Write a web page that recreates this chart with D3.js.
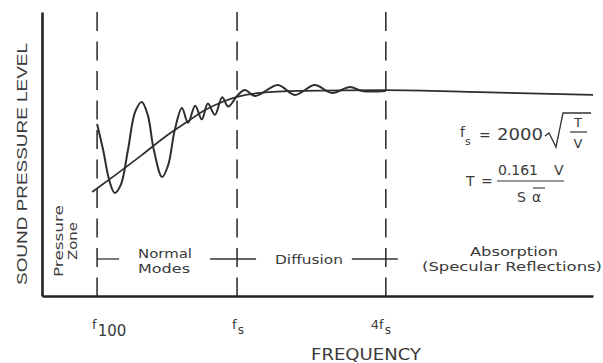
<!DOCTYPE html>
<html>
<head>
<meta charset="utf-8">
<script src="https://cdn.jsdelivr.net/npm/d3@7"></script>
<style>
	body { margin: 0; background: #fff; }
	svg { display: block; }
	text { font-family: 'DejaVu Sans', sans-serif; fill: #3a3a3a; }
</style>
</head>
<body>
<svg id="chart"></svg>
<script>
const WIDTH = 603;
const HEIGHT = 363;
const MARGIN = { top: 12, right: 10, bottom: 67, left: 42 };

// frequency / level in percent of the axis span
const trendFreq = [9.1, 13.6, 18.1, 22.3, 26.0, 29.6, 32.7, 35.4, 39.6, 46.8, 62.4, 79.5, 100];
const trendLevel = [36.6, 43.0, 49.6, 56.0, 60.9, 65.5, 68.3, 70.1, 71.5, 72.2, 72.5, 71.8, 70.8];

const responseFreq = [10.0, 11.1, 12.2, 13.2, 14.3, 15.6, 16.9, 18.1, 19.2, 20.3, 21.8, 22.9, 24.1,
	25.4, 26.5, 27.8, 29.0, 30.1, 31.4, 32.7, 33.8, 35.4, 36.8, 38.7, 42.8, 45.9, 49.5, 52.6, 55.9, 58.1, 62.4];
const responseLevel = [60.6, 51.4, 40.8, 36.3, 39.1, 51.4, 64.8, 68.3, 63.7, 51.4, 41.9, 46.1, 58.5,
	66.2, 61.0, 67.0, 62.2, 67.8, 63.8, 70.0, 66.7, 70.4, 72.5, 70.4, 74.3, 70.8, 74.3, 71.5, 73.6, 72.2, 72.2];

// region boundaries: f100, fs, 4fs
const boundaryFreq = [10.0, 35.4, 62.4];
const boundaryMain = ['f', 'f', '4f'];
const boundarySub = ['100', 's', 's'];

const svg = d3.select('#chart').attr('width', WIDTH).attr('height', HEIGHT);

const x = d3.scaleLinear().domain([0, 100]).range([MARGIN.left, WIDTH - MARGIN.right]);
const y = d3.scaleLinear().domain([0, 100]).range([HEIGHT - MARGIN.bottom, MARGIN.top]);

// dashed boundaries
svg.append('g')
	.selectAll('line')
	.data(boundaryFreq)
	.enter()
	.append('line')
	.attr('x1', (d) => x(d))
	.attr('x2', (d) => x(d))
	.attr('y1', y(100))
	.attr('y2', y(0))
	.attr('stroke', '#333')
	.attr('stroke-width', 1.6)
	.attr('stroke-dasharray', '19,10.5');

// axes (domain lines only)
const xAxis = svg.append('g')
	.attr('transform', `translate(0,${y(0)})`)
	.call(d3.axisBottom(x).tickValues([]).tickSizeOuter(0));
const yAxis = svg.append('g')
	.attr('transform', `translate(${x(0)},0)`)
	.call(d3.axisLeft(y).tickValues([]).tickSizeOuter(0));
[xAxis, yAxis].forEach((a) => a.select('.domain').attr('stroke', '#222').attr('stroke-width', 2.6));

// curves
const line = d3.line().x((d) => x(d[0])).y((d) => y(d[1]));

svg.append('path')
	.datum(d3.zip(trendFreq, trendLevel))
	.attr('fill', 'none')
	.attr('stroke', '#2e2e2e')
	.attr('stroke-width', 1.7)
	.attr('d', line.curve(d3.curveMonotoneX));

svg.append('path')
	.datum(d3.zip(responseFreq, responseLevel))
	.attr('fill', 'none')
	.attr('stroke', '#2e2e2e')
	.attr('stroke-width', 2)
	.attr('d', line.curve(d3.curveCatmullRom.alpha(0.5)));

// frequency labels under the axis
const tickLabels = svg.append('g')
	.selectAll('text')
	.data(boundaryFreq)
	.enter()
	.append('text')
	.attr('x', (d, i) => x(d) - (i === 2 ? 15 : 5))
	.attr('y', 329)
	.style('font-size', '13px');
tickLabels.append('tspan').text((d, i) => boundaryMain[i]);
tickLabels.append('tspan')
	.attr('dy', (d, i) => (i === 0 ? 7 : 5))
	.attr('dx', 1)
	.style('font-size', (d, i) => (i === 0 ? '15px' : '12px'))
	.text((d, i) => boundarySub[i]);

svg.append('text')
	.attr('x', 311)
	.attr('y', 360)
	.attr('textLength', 110)
	.attr('lengthAdjust', 'spacingAndGlyphs')
	.style('font-size', '15px')
	.text('FREQUENCY');

svg.append('text')
	.attr('transform', 'translate(27,285) rotate(-90)')
	.attr('textLength', 242)
	.attr('lengthAdjust', 'spacingAndGlyphs')
	.style('font-family', 'Liberation Sans, Arial, sans-serif')
	.style('font-size', '14px')
	.text('SOUND PRESSURE LEVEL');

// region labels
svg.append('text')
	.attr('transform', 'translate(63,277) rotate(-90)')
	.attr('textLength', 72)
	.attr('lengthAdjust', 'spacingAndGlyphs')
	.style('font-size', '13px')
	.text('Pressure');
svg.append('text')
	.attr('transform', 'translate(77,260) rotate(-90)')
	.attr('textLength', 38)
	.attr('lengthAdjust', 'spacingAndGlyphs')
	.style('font-size', '13px')
	.text('Zone');

const regionText = [
	{ t: 'Normal', x: 138, y: 258, w: 54 },
	{ t: 'Modes', x: 138, y: 273, w: 52 },
	{ t: 'Diffusion', x: 275, y: 264, w: 68 },
	{ t: 'Absorption', x: 470, y: 256, w: 88 },
	{ t: '(Specular Reflections)', x: 422, y: 271, w: 180 }
];
svg.append('g')
	.selectAll('text')
	.data(regionText)
	.enter()
	.append('text')
	.attr('x', (d) => d.x)
	.attr('y', (d) => d.y)
	.attr('textLength', (d) => d.w)
	.attr('lengthAdjust', 'spacingAndGlyphs')
	.style('font-size', '13px')
	.text((d) => d.t);

// little crosses on the boundaries
const crossY = 259;
const crossSpans = [[0, 22], [-27, 19], [-34, 12]];
svg.append('g')
	.selectAll('line')
	.data(boundaryFreq)
	.enter()
	.append('line')
	.attr('x1', (d, i) => x(d) + crossSpans[i][0])
	.attr('x2', (d, i) => x(d) + crossSpans[i][1])
	.attr('y1', crossY)
	.attr('y2', crossY)
	.attr('stroke', '#333')
	.attr('stroke-width', 1.3);

// formulas
const f = svg.append('g').style('font-size', '14px');
const fs = f.append('text').attr('x', 460).attr('y', 137);
fs.append('tspan').text('f');
fs.append('tspan').attr('dx', 0).attr('dy', 8).style('font-size', '11px').text('s');
f.append('text').attr('x', 479).attr('y', 140).text('=');
f.append('text').attr('x', 497).attr('y', 140).attr('textLength', 46)
	.attr('lengthAdjust', 'spacingAndGlyphs').style('font-size', '15px').text('2000');
f.append('path')
	.attr('d', 'M545,136 L549,133 L556,147 L563,113 L591,113')
	.attr('fill', 'none').attr('stroke', '#333').attr('stroke-width', 1.3);
f.append('text').attr('x', 578).attr('y', 127).attr('text-anchor', 'middle').style('font-size', '13px').text('T');
f.append('line').attr('x1', 570).attr('x2', 587).attr('y1', 132).attr('y2', 132)
	.attr('stroke', '#333').attr('stroke-width', 1.2);
f.append('text').attr('x', 578).attr('y', 148).attr('text-anchor', 'middle').style('font-size', '13px').text('V');

f.append('text').attr('x', 466).attr('y', 186).text('T');
f.append('text').attr('x', 481).attr('y', 186).text('=');
f.append('text').attr('x', 498).attr('y', 175).attr('textLength', 40)
	.attr('lengthAdjust', 'spacingAndGlyphs').text('0.161');
f.append('text').attr('x', 554).attr('y', 175).text('V');
f.append('line').attr('x1', 497).attr('x2', 564).attr('y1', 181).attr('y2', 181)
	.attr('stroke', '#333').attr('stroke-width', 1.2);
f.append('text').attr('x', 517).attr('y', 202).text('S');
f.append('text').attr('x', 532).attr('y', 202).text('α');
f.append('line').attr('x1', 533).attr('x2', 545).attr('y1', 188).attr('y2', 188)
	.attr('stroke', '#333').attr('stroke-width', 1.1);
</script>
</body>
</html>
